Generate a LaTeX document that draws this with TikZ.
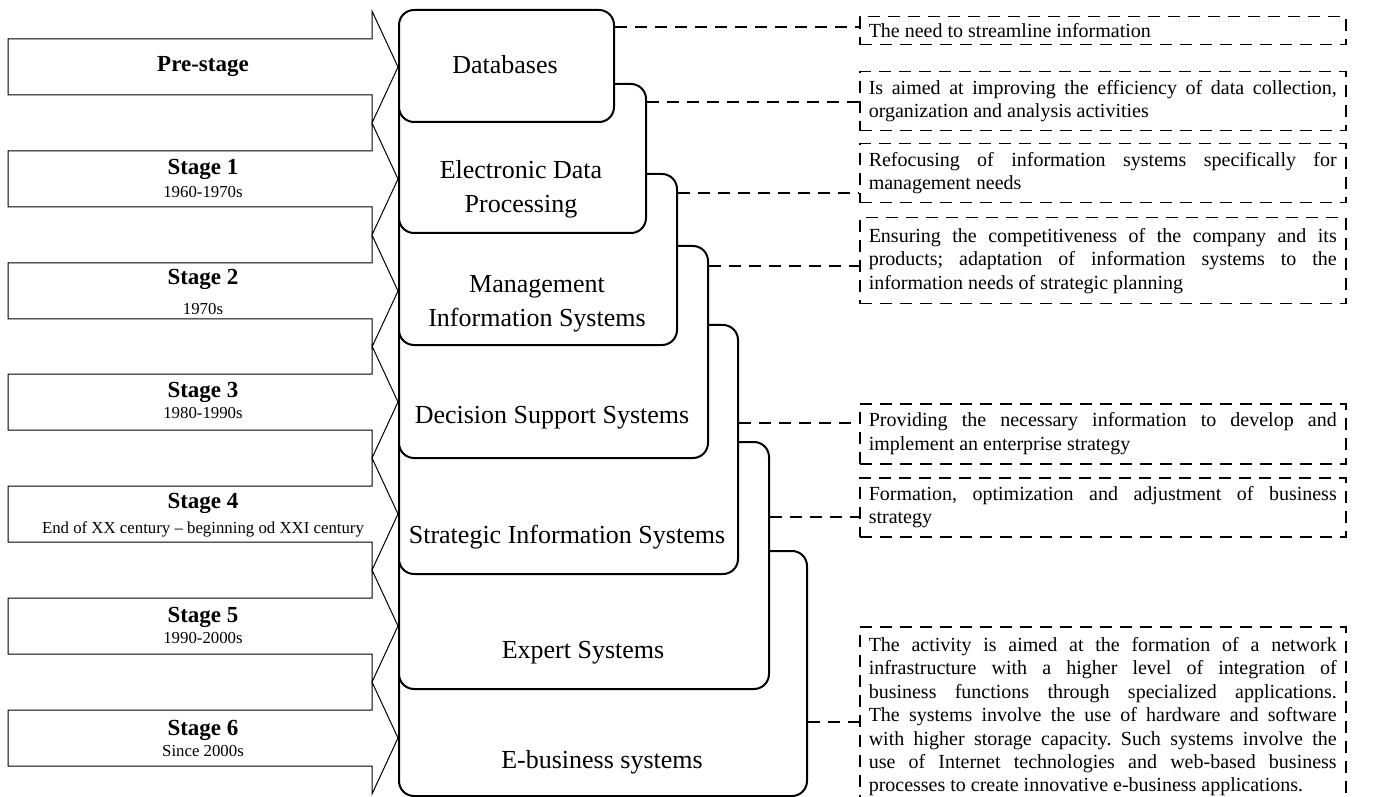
\documentclass[tikz,border=0pt]{standalone}
\usepackage{fontspec}
\setmainfont{Liberation Serif}
\frenchspacing

\tikzset{
  stagearrow/.style={draw=black, line width=0.5pt, fill=white},
  stagetext/.style={align=center, inner sep=0pt, font=\fontsize{8.4}{10.5}\selectfont},
  sysbox/.style={draw=black, line width=1pt, fill=white, rounded corners=7.5pt,
    anchor=north west, inner sep=0pt},
  systext/.style={align=center, inner sep=0pt, font=\fontsize{13}{17}\selectfont},
  note/.style={draw=black, line width=0.75pt, dash pattern=on 6pt off 4pt,
    anchor=north west, text width=234pt, inner xsep=4.5pt, inner ysep=2pt,
    align=justify, font=\fontsize{10}{11.7}\selectfont\notesetup},
  link/.style={draw=black, line width=0.75pt, dash pattern=on 6pt off 4pt},
}
\newcommand{\stagehead}[1]{{\fontsize{11.5}{10.5}\selectfont\bfseries #1}}
\newcommand{\notesetup}{\tolerance=10000\relax\hbadness=10000\relax}

\begin{document}
\begin{tikzpicture}[x=0.5pt, y=-0.5pt]
\useasboundingbox (0,0) rectangle (1373,797);

% stage arrows
\foreach \c in {67,179,291,402,514,626,738}
  \path[stagearrow] (8,\c-28) -- (372,\c-28) -- (372,\c-56) -- (398,\c)
    -- (372,\c+56) -- (372,\c+28) -- (8,\c+28) -- cycle;

\node[stagetext] (st0) at (203,67) {\stagehead{Pre-stage}};
\node[stagetext] (st1) at (203,178) {\stagehead{Stage 1}\\[1pt] 1960-1970s};
\node[stagetext] (st2) at (203,292) {\stagehead{Stage 2}\\[4.5pt] 1970s};
\node[stagetext] (st3) at (203,400) {\stagehead{Stage 3}\\ 1980-1990s};
\node[stagetext] (st4) at (203,515)
  {\stagehead{Stage 4}\\[2pt] End of XX century -- beginning od XXI century};
\node[stagetext] (st5) at (203,625) {\stagehead{Stage 5}\\ 1990-2000s};
\node[stagetext] (st6) at (203,738) {\stagehead{Stage 6}\\ Since 2000s};

% stacked systems, lowest first
\node[sysbox, minimum width=204pt, minimum height=122.5pt] (eb) at (398,550) {};
\node[sysbox, minimum width=185pt, minimum height=123.5pt] (exp) at (398,441) {};
\node[sysbox, minimum width=169.5pt, minimum height=124.5pt] (sis) at (398,324) {};
\node[sysbox, minimum width=154.5pt, minimum height=106pt] (dss) at (398,245) {};
\node[sysbox, minimum width=139pt, minimum height=85.5pt] (mis) at (398,173) {};
\node[sysbox, minimum width=123.5pt, minimum height=74.5pt] (edp) at (398,83) {};
\node[sysbox, minimum width=107.5pt, minimum height=56pt] (dbs) at (398,9) {};

\node[systext, anchor=base] (dbs-t) at (505,74) {Databases};
\node[systext] (edp-t) at (521,189) {Electronic Data\\Processing};
\node[systext] (mis-t) at (537,304) {Management\\Information Systems};
\node[systext, anchor=base] (dss-t) at (552,423) {Decision Support Systems};
\node[systext, anchor=base] (sis-t) at (567,543) {Strategic Information Systems};
\node[systext, anchor=base] (exp-t) at (583,658) {Expert Systems};
\node[systext, anchor=base] (eb-t) at (602,768) {E-business systems};

% notes
\node[note, minimum height=14pt] (n1) at (859,16)
  {The need to streamline information};
\node[note, minimum height=29.5pt] (n2) at (859,71)
  {Is aimed at improving the efficiency of data collection,\linebreak
   organization and analysis activities};
\node[note, minimum height=29.5pt] (n3) at (859,143)
  {Refocusing of information systems specifically for\linebreak
   management needs};
\node[note, minimum height=43pt] (n4) at (859,217)
  {Ensuring the competitiveness of the company and its\linebreak
   products; adaptation of information systems to the\linebreak
   information needs of strategic planning};
\node[note, minimum height=30pt] (n5) at (859,403)
  {Providing the necessary information to develop and\linebreak
   implement an enterprise strategy};
\node[note, minimum height=29.5pt] (n6) at (859,477)
  {Formation, optimization and adjustment of business\linebreak
   strategy};
\node[note, minimum height=90pt] (n7) at (859,626)
  {The activity is aimed at the formation of a network\linebreak
   infrastructure with a higher level of integration of\linebreak
   business functions through specialized applications.\linebreak
   The systems involve the use of hardware and software\linebreak
   with higher storage capacity. Such systems involve the\linebreak
   use of Internet technologies and web-based business\linebreak
   processes to create innovative e-business applications.};

\foreach \b/\n/\y in {dbs/n1/27, edp/n2/102, mis/n3/193, dss/n4/266,
    sis/n5/423, exp/n6/517, eb/n7/722}
  \draw[link] (\b.east |- 0,\y) -- (\n.west |- 0,\y);

\end{tikzpicture}
\end{document}
